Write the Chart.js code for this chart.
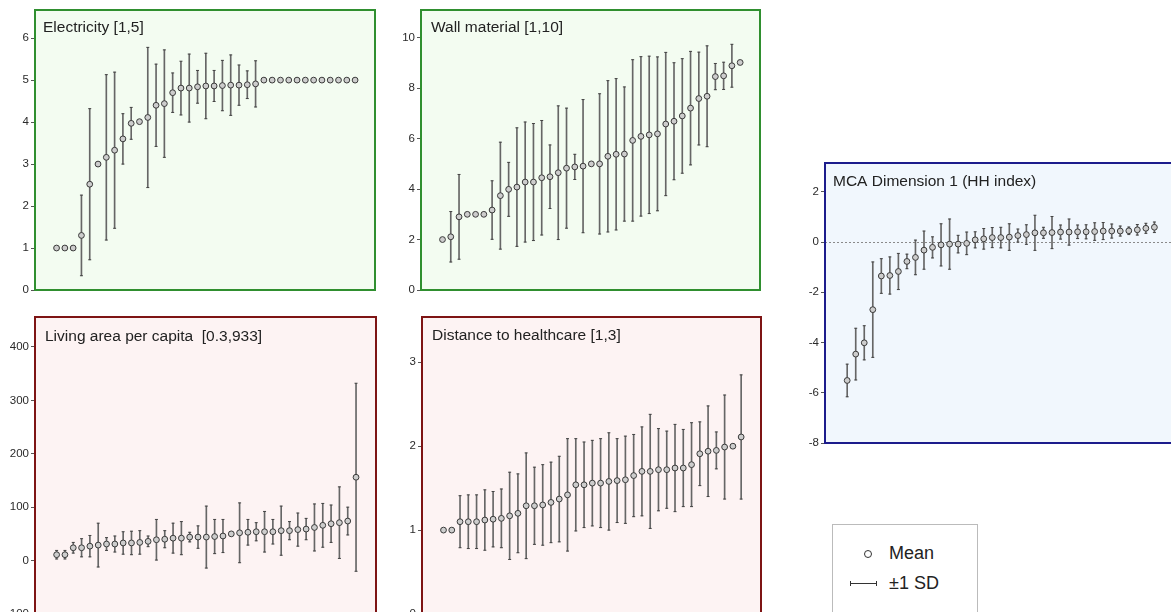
<!DOCTYPE html>
<html>
<head>
<meta charset="utf-8">
<script src="https://cdn.jsdelivr.net/npm/chart.js@4.4.1/dist/chart.umd.min.js"></script>
<style>
  body { margin: 0; background: #fff; width: 1171px; height: 612px; overflow: hidden; position: relative;
         font-family: "Liberation Sans", Arial, sans-serif; color: #222; }
  canvas { position: absolute; }
  #legend { position: absolute; left: 832px; top: 524px; width: 144px; height: 110px; border: 1px solid #bbb; background: #fff; }
  #legend .row { position: absolute; left: 0; font-size: 18px; line-height: 20px; }
  #legend .dot { position: absolute; left: 31px; top: 25px; width: 6px; height: 6px; border: 1px solid #333; border-radius: 50%; }
  #legend .bar { position: absolute; left: 17px; top: 58px; width: 27px; height: 0; border-top: 1px solid #333; }
  #legend .bar:before, #legend .bar:after { content: ""; position: absolute; top: -3px; width: 1px; height: 5px; background: #333; }
  #legend .bar:before { left: 0; }
  #legend .bar:after { right: 0; }
</style>
</head>
<body>
<canvas id="elec" width="380" height="300" style="left:0;top:0"></canvas>
<canvas id="wall" width="380" height="300" style="left:385px;top:0"></canvas>
<canvas id="living" width="381" height="320" style="left:0;top:307px"></canvas>
<canvas id="dist" width="381" height="320" style="left:385px;top:307px"></canvas>
<canvas id="mca" width="400" height="300" style="left:785px;top:153px"></canvas>
<div id="legend">
  <span class="dot"></span><span class="row" style="left:56px;top:18px">Mean</span>
  <span class="bar"></span><span class="row" style="left:56px;top:48px">±1 SD</span>
</div>
<script>
// group means and standard deviations, sorted by mean (0 = no spread shown)
const elecMean = [1.00, 1.00, 1.00, 1.30, 2.52, 3.00, 3.16, 3.33, 3.60, 3.97, 4.01, 4.11, 4.40, 4.44, 4.70, 4.81, 4.81, 4.84, 4.86,
                  4.86, 4.87, 4.88, 4.88, 4.89, 4.91, 5, 5, 5, 5, 5, 5, 5, 5, 5, 5, 5, 5];
const elecSD = [0, 0, 0, 0.96, 1.80, 0, 1.97, 1.86, 0.60, 0.38, 0, 1.67, 0.98, 1.28, 0.47, 0.64, 0.81, 0.39, 0.78,
                0.37, 0.60, 0.72, 0.48, 0.33, 0.55, 0, 0, 0, 0, 0, 0, 0, 0, 0, 0, 0, 0];
const elecTicks = [0, 1, 2, 3, 4, 5, 6];

const wallMean = [2.00, 2.11, 2.90, 3.00, 3.00, 3.00, 3.17, 3.74, 3.99, 4.08, 4.28, 4.28, 4.45, 4.49, 4.65, 4.83, 4.88, 4.91, 5.00,
                  5.00, 5.30, 5.38, 5.39, 5.93, 6.09, 6.15, 6.19, 6.58, 6.69, 6.90, 7.21, 7.59, 7.68, 8.46, 8.49, 8.89, 9.02];
const wallSD = [0, 1.00, 1.68, 0, 0, 0, 1.16, 2.12, 1.07, 2.35, 2.38, 2.32, 2.27, 1.26, 2.65, 2.38, 0.50, 2.64, 0,
                2.78, 3.00, 3.00, 2.66, 3.20, 3.16, 3.12, 3.05, 2.84, 2.32, 2.27, 2.25, 1.84, 2.00, 0.52, 0.54, 0.85, 0];
const wallTicks = [0, 2, 4, 6, 8, 10];

const livingMean = [11, 11, 24, 24, 27, 29, 31, 31, 33, 33, 34, 36, 39, 40, 42, 42, 44, 44, 44,
                    45, 46, 50, 52, 53, 54, 54, 54, 56, 56, 58, 59, 62, 66, 69, 71, 74, 156];
const livingSD = [8, 8, 10, 17, 20, 41, 12, 15, 21, 22, 22, 10, 38, 16, 28, 31, 9, 21, 58,
                  32, 31, 0, 56, 24, 17, 38, 23, 46, 17, 31, 20, 44, 41, 35, 67, 26, 176];
const livingTicks = [-100, 0, 100, 200, 300, 400];

const distMean = [1.00, 1.00, 1.10, 1.10, 1.10, 1.12, 1.13, 1.14, 1.17, 1.20, 1.29, 1.29, 1.30, 1.33, 1.37, 1.42, 1.54, 1.54, 1.56,
                  1.56, 1.58, 1.59, 1.60, 1.65, 1.70, 1.70, 1.72, 1.72, 1.74, 1.74, 1.78, 1.91, 1.94, 1.95, 1.99, 2.00, 2.11];
const distSD = [0, 0, 0.31, 0.32, 0.32, 0.36, 0.33, 0.35, 0.52, 0.47, 0.63, 0.46, 0.48, 0.48, 0.51, 0.67, 0.55, 0.51, 0.51,
                0.53, 0.58, 0.50, 0.52, 0.49, 0.53, 0.68, 0.49, 0.46, 0.52, 0.46, 0.50, 0.38, 0.54, 0.22, 0.62, 0, 0.74];
const distTicks = [0, 1, 2, 3];

const mcaMean = [-5.51, -4.46, -4.01, -2.69, -1.35, -1.33, -1.17, -0.77, -0.61, -0.32, -0.21, -0.11, -0.08, -0.08, -0.05, 0.09, 0.13, 0.18, 0.18,
                 0.20, 0.26, 0.30, 0.37, 0.37, 0.38, 0.40, 0.40, 0.41, 0.41, 0.42, 0.44, 0.44, 0.44, 0.45, 0.49, 0.55, 0.59];
const mcaSD = [0.65, 1.03, 0.68, 1.90, 0.69, 0.74, 0.72, 0.29, 0.69, 0.76, 0.42, 0.84, 1.00, 0.35, 0.45, 0.32, 0.41, 0.40, 0.41,
               0.53, 0.26, 0.39, 0.70, 0.22, 0.64, 0.28, 0.52, 0.27, 0.28, 0.35, 0.34, 0.28, 0.20, 0.15, 0.21, 0.20, 0.21];
const mcaTicks = [-8, -6, -4, -2, 0, 2];

const FONT = '"Liberation Sans", Arial, sans-serif';

// background, border and title of each panel
const panelFrame = {
    id: 'panelFrame',
    beforeDraw(chart, args, opts) {
        const { ctx, chartArea: a } = chart;
        ctx.save();
        ctx.fillStyle = opts.bg;
        ctx.fillRect(a.left, a.top, a.right - a.left, a.bottom - a.top);
        ctx.restore();
    },
    afterDraw(chart, args, opts) {
        const { ctx, chartArea: a } = chart;
        ctx.save();
        ctx.strokeStyle = opts.border;
        ctx.lineWidth = 2;
        ctx.strokeRect(a.left, a.top, a.right - a.left, a.bottom - a.top);
        ctx.fillStyle = '#222';
        ctx.font = '15.5px ' + FONT;
        ctx.fillText(opts.title, a.left + opts.dx, a.top + opts.dy);
        ctx.restore();
    }
};

function makePanel(id, p) {
    const bars = [], caps = [], means = [];
    p.mean.forEach((m, i) => {
        means.push({ x: i, y: m });
        if (p.sd[i] > 0) {
            bars.push({ x: i, y: [m - p.sd[i], m + p.sd[i]] });
            caps.push({ x: i, y: m - p.sd[i] }, { x: i, y: m + p.sd[i] });
        }
    });

    new Chart(document.getElementById(id), {
        type: 'scatter',
        data: {
            datasets: [
                { type: 'bar', data: bars, barThickness: 1, backgroundColor: '#666', borderWidth: 0, order: 3 },
                { data: caps, pointStyle: 'line', pointRadius: 1.5, borderColor: '#444', borderWidth: 1, order: 2 },
                { data: means, pointRadius: 2.9, backgroundColor: '#cdcdcd', borderColor: '#3a3a3a', borderWidth: 1, order: 1 }
            ]
        },
        options: {
            responsive: false,
            animation: false,
            events: [],
            devicePixelRatio: 1,
            layout: { padding: p.pad },
            plugins: {
                legend: { display: false },
                tooltip: { enabled: false },
                panelFrame: { bg: p.bg, border: p.border, title: p.title, dx: p.dx, dy: p.dy }
            },
            scales: {
                x: { type: 'linear', display: false, offset: false, min: -2.6, max: p.xmax || 38.4 },
                y: {
                    min: p.min,
                    max: p.max,
                    afterBuildTicks: s => { s.ticks = p.ticks.map(v => ({ value: v })); },
                    afterFit: s => { s.width = p.axisWidth; },
                    border: { display: false, dash: p.zeroLine ? [2, 2] : [] },
                    grid: {
                        drawOnChartArea: !!p.zeroLine,
                        color: c => (c.tick && c.tick.value === 0) ? '#8a8a8a' : 'rgba(0,0,0,0)',
                        tickColor: '#555',
                        tickLength: 4
                    },
                    ticks: { color: '#2a2a2a', padding: 2, font: { size: 11.5, family: FONT } }
                }
            }
        },
        plugins: [panelFrame]
    });
}

const green = { bg: '#f3fcf1', border: '#2f8f2f' };
const red = { bg: '#fdf3f3', border: '#7e1414' };
const blue = { bg: '#f1f7fd', border: '#1c1c8c' };

makePanel('elec', Object.assign({ mean: elecMean, sd: elecSD, ticks: elecTicks, min: 0, max: 6.67,
    title: 'Electricity [1,5]', dx: 8, dy: 22, axisWidth: 35, pad: { top: 10, right: 2, bottom: 10, left: 0 } }, green));
makePanel('wall', Object.assign({ mean: wallMean, sd: wallSD, ticks: wallTicks, min: 0, max: 11.1,
    title: 'Wall material [1,10]', dx: 10, dy: 22, axisWidth: 36, pad: { top: 10, right: 3, bottom: 10, left: 0 } }, green));
makePanel('living', Object.assign({ mean: livingMean, sd: livingSD, ticks: livingTicks, min: -100, max: 456,
    title: 'Living area per capita  [0.3,933]', dx: 10, dy: 24, axisWidth: 35, pad: { top: 10, right: 2, bottom: 13, left: 0 } }, red));
makePanel('dist', Object.assign({ mean: distMean, sd: distSD, ticks: distTicks, min: 0, max: 3.54,
    title: 'Distance to healthcare [1,3]', dx: 10, dy: 23, axisWidth: 37, pad: { top: 10, right: 3, bottom: 13, left: 0 } }, red));
makePanel('mca', Object.assign({ mean: mcaMean, sd: mcaSD, ticks: mcaTicks, min: -8, max: 3.15, zeroLine: true, xmax: 39,
    title: 'MCA Dimension 1 (HH index)', dx: 8, dy: 23, axisWidth: 40, pad: { top: 10, right: 5, bottom: 10, left: 0 } }, blue));
</script>
</body>
</html>
